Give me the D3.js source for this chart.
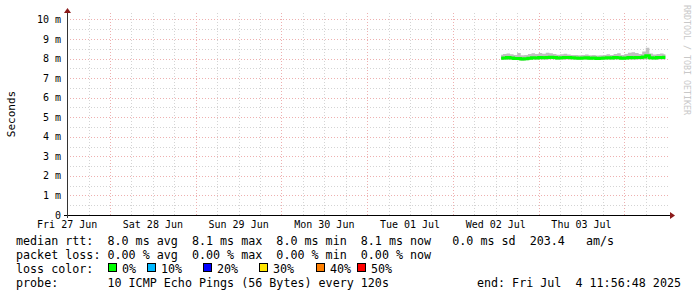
<!DOCTYPE html>
<html>
<head>
<meta charset="utf-8">
<script src="https://cdn.jsdelivr.net/npm/d3@7"></script>
<style>
  body { margin: 0; background: #fff; }
  svg { display: block; font-family: "DejaVu Sans Mono", monospace; }
  .pre { white-space: pre; }
</style>
</head>
<body>
<svg width="697" height="297"></svg>
<script>
// données (ms), un point par heure à partir du 2 juillet 13:30 UTC
const graphStart = Date.UTC(2025, 5, 27, 11, 56, 48);
const graphEnd = Date.UTC(2025, 6, 4, 11, 56, 48);
const firstSample = Date.UTC(2025, 6, 2, 13, 30, 0);
const sampleStepMs = 3600 * 1000;

const medianRtt = [
  8.02, 8.03, 8.05, 8.03, 8.01, 8.00, 7.98, 7.99, 8.02, 8.04,
  8.03, 8.05, 8.04, 8.06, 8.07, 8.05, 8.03, 8.04, 8.06, 8.05,
  8.04, 8.03, 8.02, 8.03, 8.04, 8.02, 8.03, 8.01, 8.02, 8.03,
  8.04, 8.03, 8.05, 8.04, 8.02, 8.03, 8.05, 8.04, 8.06, 8.05,
  8.08, 8.15, 8.04, 8.03, 8.05, 8.06, 8.07
];
const smokeHigh = [
  8.20, 8.24, 8.26, 8.22, 8.18, 8.28, 8.17, 8.19, 8.24, 8.27,
  8.23, 8.28, 8.25, 8.30, 8.27, 8.24, 8.20, 8.22, 8.25, 8.21,
  8.19, 8.18, 8.17, 8.19, 8.21, 8.17, 8.18, 8.16, 8.17, 8.19,
  8.22, 8.19, 8.24, 8.27, 8.19, 8.23, 8.30, 8.33, 8.28, 8.24,
  8.36, 8.55, 8.26, 8.21, 8.24, 8.26, 8.22
];
const smokeLow = [
  7.95, 7.96, 7.94, 7.95, 7.93, 7.92, 7.89, 7.91, 7.94, 7.95,
  7.95, 7.96, 7.95, 7.96, 7.97, 7.95, 7.94, 7.95, 7.96, 7.95,
  7.95, 7.94, 7.94, 7.95, 7.95, 7.94, 7.95, 7.94, 7.94, 7.95,
  7.95, 7.95, 7.96, 7.95, 7.94, 7.95, 7.96, 7.95, 7.96, 7.95,
  7.96, 7.97, 7.95, 7.95, 7.96, 7.96, 7.96
];

const yTicks = [0, 1, 2, 3, 4, 5, 6, 7, 8, 9, 10];
const dayLabels = ["Fri 27 Jun", "Sat 28 Jun", "Sun 29 Jun", "Mon 30 Jun", "Tue 01 Jul", "Wed 02 Jul", "Thu 03 Jul"];

const lossLabels = ["0%", "10%", "20%", "30%", "40%", "50%"];
const lossColors = ["#00ff00", "#00b8ff", "#0000ff", "#ffe600", "#ff7f00", "#ff0000"];

const legendLines = [
  "median rtt:  8.0 ms avg  8.1 ms max  8.0 ms min  8.1 ms now   0.0 ms sd  203.4   am/s",
  "packet loss: 0.00 % avg  0.00 % max  0.00 % min  0.00 % now",
  "loss color:",
  "probe:       10 ICMP Echo Pings (56 Bytes) every 120s"
];
const endLabel = "end: Fri Jul  4 11:56:48 2025";

// Paramètres principaux
const svg = d3.select("svg");
const plotL = 67, plotR = 667, plotT = 15, plotB = 215;

const x = d3.scaleUtc().domain([graphStart, graphEnd]).range([plotL, plotR]);
const y = d3.scaleLinear().domain([0, 10.23]).range([plotB, plotT]);

const samples = medianRtt.map((v, i) => ({
  t: firstSample + i * sampleStepMs,
  med: v, hi: smokeHigh[i], lo: smokeLow[i]
}));

const minorColor = "#d4d4d4", majorColor = "#eeb0b0";

// grille
const grid = svg.append("g").attr("shape-rendering", "crispEdges");
const minorY = d3.range(0.5, 10.3, 1);
grid.selectAll(".ymin").data(minorY).join("line")
  .attr("x1", plotL).attr("x2", plotR + 1)
  .attr("y1", d => Math.round(y(d)) + 0.5).attr("y2", d => Math.round(y(d)) + 0.5)
  .attr("stroke", minorColor).attr("stroke-dasharray", "1,2");

const sixHours = d3.utcHour.every(6).range(new Date(graphStart), new Date(graphEnd))
  .filter(d => d.getUTCHours() !== 0);
grid.selectAll(".xmin").data(sixHours).join("line")
  .attr("x1", d => Math.round(x(d)) + 0.5).attr("x2", d => Math.round(x(d)) + 0.5)
  .attr("y1", plotT - 2).attr("y2", plotB)
  .attr("stroke", minorColor).attr("stroke-dasharray", "1,2");

grid.selectAll(".ymaj").data(yTicks.slice(1)).join("line")
  .attr("x1", plotL).attr("x2", plotR + 1)
  .attr("y1", d => Math.round(y(d)) + 0.5).attr("y2", d => Math.round(y(d)) + 0.5)
  .attr("stroke", majorColor).attr("stroke-dasharray", "1,2");

const midnights = d3.utcDay.range(new Date(graphStart), new Date(graphEnd));
grid.selectAll(".xmaj").data(midnights).join("line")
  .attr("x1", d => Math.round(x(d)) + 0.5).attr("x2", d => Math.round(x(d)) + 0.5)
  .attr("y1", plotT - 2).attr("y2", plotB)
  .attr("stroke", majorColor).attr("stroke-dasharray", "1,2");

// fumée + médiane
svg.append("path")
  .datum(samples)
  .attr("fill", "#c0c0c0")
  .attr("d", d3.area().curve(d3.curveStep)
    .x(d => x(d.t)).y0(d => y(d.lo)).y1(d => y(d.hi)));

svg.append("path")
  .datum(samples)
  .attr("fill", "none")
  .attr("stroke", lossColors[0])
  .attr("stroke-width", 3)
  .attr("d", d3.line().curve(d3.curveStep).x(d => x(d.t)).y(d => y(d.med)));

// axes
const axes = svg.append("g").attr("shape-rendering", "crispEdges");
axes.append("line").attr("x1", plotL - 3).attr("x2", plotR + 4)
  .attr("y1", plotB + 0.5).attr("y2", plotB + 0.5).attr("stroke", "#000");
axes.append("line").attr("x1", plotL + 0.5).attr("x2", plotL + 0.5)
  .attr("y1", plotB + 3).attr("y2", plotT - 3).attr("stroke", "#333");
svg.append("path").attr("fill", "#8b1a1a")
  .attr("d", `M${plotR + 3},${plotB - 3}L${plotR + 8},${plotB + 0.5}L${plotR + 3},${plotB + 4}Z`);
svg.append("path").attr("fill", "#8b1a1a")
  .attr("d", `M${plotL - 3},${plotT - 2}L${plotL + 0.5},${plotT - 7}L${plotL + 4},${plotT - 2}Z`);

// étiquettes
svg.append("g").selectAll("text").data(yTicks).join("text")
  .attr("x", 61).attr("y", d => y(d) + 3.5)
  .attr("text-anchor", "end").attr("font-size", 10).attr("fill", "#000")
  .text(d => d === 0 ? "0" : `${d} m`);

svg.append("g").selectAll("text").data(dayLabels).join("text")
  .attr("x", (d, i) => x(Date.UTC(2025, 5, 27 + i, 12))).attr("y", 228)
  .attr("text-anchor", "middle").attr("font-size", 10).attr("fill", "#000")
  .text(d => d);

svg.append("text")
  .attr("transform", "translate(15,114) rotate(-90)")
  .attr("text-anchor", "middle").attr("font-size", 11).text("Seconds");

svg.append("text")
  .attr("transform", "translate(684,5) rotate(90)")
  .attr("font-size", 8.3).attr("fill", "#c8c8c8")
  .text("RRDTOOL / TOBI OETIKER");

// légende
const legend = svg.append("g").attr("font-size", 11.7).attr("fill", "#000");
legend.selectAll("text").data(legendLines).join("text")
  .attr("class", "pre")
  .attr("x", 16).attr("y", (d, i) => 245 + i * 14)
  .text(d => d);

legend.append("text").attr("x", 681).attr("y", 245 + 3 * 14)
  .attr("text-anchor", "end").attr("class", "pre").text(endLabel);

const boxX = [108, 147, 203, 259, 316, 357];
const boxes = legend.append("g");
lossLabels.forEach((lab, i) => {
  boxes.append("rect")
    .attr("x", boxX[i] + 0.5).attr("y", 263.5).attr("width", 8).attr("height", 8)
    .attr("fill", lossColors[i]).attr("stroke", "#000").attr("stroke-width", 1)
    .attr("shape-rendering", "crispEdges");
  boxes.append("text").attr("x", boxX[i] + 14).attr("y", 273).text(lab);
});
</script>
</body>
</html>
